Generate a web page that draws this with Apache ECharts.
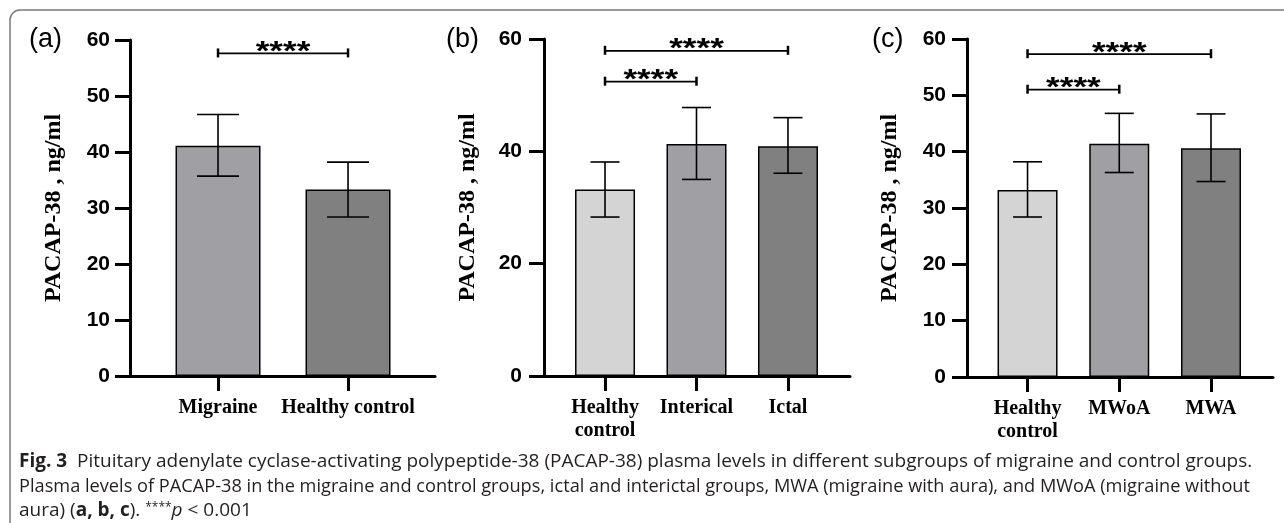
<!DOCTYPE html>
<html>
<head>
<meta charset="utf-8">
<script src="https://cdn.jsdelivr.net/npm/echarts@6/dist/echarts.min.js"></script>
<style>
html,body{margin:0;padding:0;background:#fff;}
#chart{width:1284px;height:523px;}
</style>
</head>
<body>
<div id="chart"></div>
<script>
// ---- data ----
const catsA = ['Migraine', 'Healthy control'];
const meanA = [41.1, 33.3];
const lowA = [35.7, 28.4];
const highA = [46.7, 38.2];
const sigA = [[0, 1, 57.6]];

const catsB = ['Healthy\ncontrol', 'Interical', 'Ictal'];
const meanB = [33.2, 41.3, 40.9];
const lowB = [28.3, 35.0, 36.1];
const highB = [38.1, 47.8, 46.0];
const sigB = [[0, 2, 57.9], [0, 1, 52.4]];

const catsC = ['Healthy\ncontrol', 'MWoA', 'MWA'];
const meanC = [33.2, 41.4, 40.6];
const lowC = [28.4, 36.3, 34.7];
const highC = [38.2, 46.8, 46.7];
const sigC = [[0, 2, 57.3], [0, 1, 51.0]];

const yMax = 60;
const yStepA = 10, yStepB = 20, yStepC = 10;
const sigLabel = '****';
const yTitle = 'PACAP-38 , ng/ml';
const panelLabels = ['(a)', '(b)', '(c)'];
const captionLine1 = 'Pituitary adenylate cyclase-activating polypeptide-38 (PACAP-38) plasma levels in different subgroups of migraine and control groups.';
const captionLine2 = 'Plasma levels of PACAP-38 in the migraine and control groups, ictal and interictal groups, MWA (migraine with aura), and MWoA (migraine without';

// ---- styles ----
const colorsA = ['#a0a0a4', '#808080'];
const colorsBC = ['#d4d4d4', '#a0a0a4', '#808080'];
const capFont = 'Open Sans';
const capSize = 19;
const capSize2 = 18.2;

const chart = echarts.init(document.getElementById('chart'), null, {renderer: 'canvas'});

function xAxisDef(gi, cats, min, max) {
  const vals = cats.map((c, i) => i);
  return {
    type: 'value', gridIndex: gi, min: min, max: max,
    splitLine: {show: false},
    axisLine: {show: true, onZero: false, lineStyle: {color: '#000', width: 3}},
    axisTick: {show: true, customValues: vals, length: 15, lineStyle: {color: '#000', width: 3}},
    axisLabel: {
      show: true, customValues: vals, margin: 20,
      formatter: v => cats[Math.round(v)] || '',
      fontFamily: 'Liberation Serif', fontWeight: 'bold', fontSize: 20, color: '#000', lineHeight: 23,
      verticalAlign: 'top'
    }
  };
}
function yAxisDef(gi, step, gap, labMargin) {
  return {
    type: 'value', gridIndex: gi, min: 0, max: yMax, interval: step,
    splitLine: {show: false},
    axisLine: {show: true, onZero: false, lineStyle: {color: '#000', width: 3}},
    axisTick: {show: true, length: 15, lineStyle: {color: '#000', width: 3}},
    axisLabel: {margin: labMargin, fontFamily: 'Liberation Sans', fontWeight: 'bold', fontSize: 21, color: '#000'},
    name: yTitle, nameLocation: 'middle', nameGap: gap,
    nameTextStyle: {fontFamily: 'Liberation Serif', fontWeight: 'bold', fontSize: 24, color: '#000'}
  };
}
function barSeries(gi, means, colors, bw) {
  return {
    type: 'bar', xAxisIndex: gi, yAxisIndex: gi, barWidth: bw,
    data: means.map((m, i) => ({value: [i, m], itemStyle: {color: colors[i]}})),
    itemStyle: {borderColor: '#000', borderWidth: 1.5},
    silent: true, z: 2
  };
}
function errSeries(gi, means, lows, highs, capHalf) {
  return {
    type: 'custom', xAxisIndex: gi, yAxisIndex: gi, z: 3, silent: true,
    data: means.map((m, i) => [i, lows[i], highs[i]]),
    renderItem: function (params, api) {
      const x = api.value(0);
      const p1 = api.coord([x, api.value(1)]);
      const p2 = api.coord([x, api.value(2)]);
      const st = {stroke: '#000', lineWidth: 1.6};
      return {type: 'group', children: [
        {type: 'line', shape: {x1: p1[0], y1: p1[1], x2: p2[0], y2: p2[1]}, style: st},
        {type: 'line', shape: {x1: p1[0] - capHalf, y1: p1[1], x2: p1[0] + capHalf, y2: p1[1]}, style: st},
        {type: 'line', shape: {x1: p2[0] - capHalf, y1: p2[1], x2: p2[0] + capHalf, y2: p2[1]}, style: st}
      ]};
    }
  };
}
function sigSeries(gi, sig) {
  return {
    type: 'custom', xAxisIndex: gi, yAxisIndex: gi, z: 4, silent: true, clip: false,
    data: sig,
    renderItem: function (params, api) {
      const a = api.coord([api.value(0), api.value(2)]);
      const b = api.coord([api.value(1), api.value(2)]);
      const st = {stroke: '#000', lineWidth: 1.8};
      return {type: 'group', children: [
        {type: 'line', shape: {x1: a[0], y1: a[1], x2: b[0], y2: b[1]}, style: st},
        {type: 'line', shape: {x1: a[0], y1: a[1] - 5, x2: a[0], y2: a[1] + 4}, style: {stroke: '#000', lineWidth: 2.5}},
        {type: 'line', shape: {x1: b[0], y1: b[1] - 5, x2: b[0], y2: b[1] + 4}, style: {stroke: '#000', lineWidth: 2.5}},
        {type: 'text', x: (a[0] + b[0]) / 2, y: a[1] - 1, scaleX: 1.3,
         style: {
          text: sigLabel, x: 0, y: 0,
          align: 'center', verticalAlign: 'middle',
          font: 'bold 27px "Liberation Sans"', fill: '#000'
        }}
      ]};
    }
  };
}

const option = {
  animation: false,
  backgroundColor: '#fff',
  grid: [
    {left: 130, top: 40, width: 305, height: 336},
    {left: 544, top: 39, width: 306, height: 337},
    {left: 967, top: 39, width: 306, height: 338}
  ],
  xAxis: [
    xAxisDef(0, catsA, -0.677, 1.669),
    xAxisDef(1, catsB, -0.667, 2.678),
    xAxisDef(2, catsC, -0.66, 2.676)
  ],
  yAxis: [
    yAxisDef(0, yStepA, 64, 20),
    yAxisDef(1, yStepB, 64, 22),
    yAxisDef(2, yStepC, 65, 21)
  ],
  series: [
    barSeries(0, meanA, colorsA, 85),
    errSeries(0, meanA, lowA, highA, 21),
    sigSeries(0, sigA),
    barSeries(1, meanB, colorsBC, 60),
    errSeries(1, meanB, lowB, highB, 14.5),
    sigSeries(1, sigB),
    barSeries(2, meanC, colorsBC, 60),
    errSeries(2, meanC, lowC, highC, 14.5),
    sigSeries(2, sigC)
  ],
  graphic: [
    {type: 'rect', shape: {x: 10, y: 10, width: 1400, height: 700, r: 10},
     style: {fill: 'none', stroke: '#7a7a7a', lineWidth: 1.5}, silent: true, z: 0},
    {type: 'text', x: 29, y: 40, style: {text: panelLabels[0], font: '27px "Liberation Sans"', fill: '#000', verticalAlign: 'middle'}},
    {type: 'text', x: 446, y: 40, style: {text: panelLabels[1], font: '27px "Liberation Sans"', fill: '#000', verticalAlign: 'middle'}},
    {type: 'text', x: 872, y: 40, style: {text: panelLabels[2], font: '27px "Liberation Sans"', fill: '#000', verticalAlign: 'middle'}},
    {type: 'text', x: 19, y: 462, style: {
      text: '{b|Fig. 3}  ' + captionLine1,
      font: capSize + 'px "' + capFont + '"', fill: '#231f20', verticalAlign: 'middle',
      rich: {b: {fontWeight: 'bold', fontFamily: capFont, fontSize: capSize, fill: '#231f20'}}
    }},
    {type: 'text', x: 19, y: 487, style: {
      text: captionLine2,
      font: capSize2 + 'px "' + capFont + '"', fill: '#231f20', verticalAlign: 'middle'
    }},
    {type: 'text', x: 19, y: 511, style: {
      text: 'aura) ({b|a, b, c}). {s|****}{i|p} < 0.001',
      font: capSize + 'px "' + capFont + '"', fill: '#231f20', verticalAlign: 'middle',
      rich: {
        b: {fontWeight: 'bold', fontFamily: capFont, fontSize: capSize, fill: '#231f20'},
        s: {fontFamily: capFont, fontSize: 12, fill: '#231f20', verticalAlign: 'top'},
        i: {fontStyle: 'italic', fontFamily: capFont, fontSize: capSize, fill: '#231f20'}
      }
    }}
  ]
};
chart.setOption(option);
</script>
</body>
</html>
